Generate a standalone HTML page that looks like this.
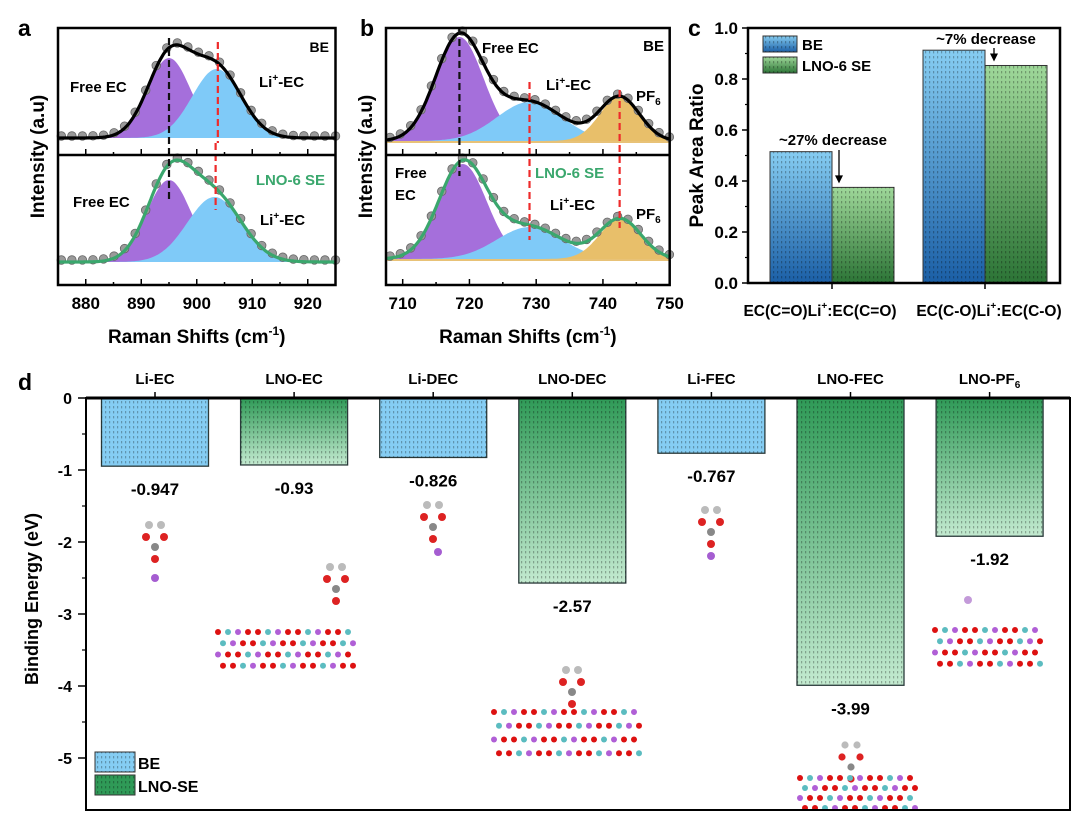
<!DOCTYPE html>
<html><head><meta charset="utf-8"><style>
html,body{margin:0;padding:0;background:#fff;}
svg{display:block;font-family:"Liberation Sans",Arial,sans-serif;}
</style></head><body>
<svg id="fig" width="1080" height="816" viewBox="0 0 1080 816" xmlns="http://www.w3.org/2000/svg">
<defs>
<pattern id="dots" width="4" height="5" patternUnits="userSpaceOnUse"><rect x="1" y="1" width="1.2" height="2.4" fill="rgba(0,0,0,0.28)"/></pattern>
<linearGradient id="gBlueC" x1="0" y1="0" x2="0" y2="1"><stop offset="0" stop-color="#86cdf2"/><stop offset="1" stop-color="#1b5fa6"/></linearGradient>
<linearGradient id="gGreenC" x1="0" y1="0" x2="0" y2="1"><stop offset="0" stop-color="#9fd89a"/><stop offset="1" stop-color="#2c7436"/></linearGradient>
<linearGradient id="gGreenD" x1="0" y1="0" x2="0" y2="1"><stop offset="0" stop-color="#2f9a57"/><stop offset="1" stop-color="#c3ead0"/></linearGradient>
</defs>
<g id="pa"></g>
<g id="pb"></g>
<g id="pc"></g>
<g id="pd"></g>
</svg>
<script>
// ---------- data ----------
// Panel a peaks: [center, height(px above baseline), sigma]
const aTopPeaks = [[895, 80, 3.9], [903.6, 69, 4.4]];
const aBotPeaks = [[895, 82, 4.0], [903.2, 65, 4.9]];
// Panel b peaks
const bTopPeaks = [[718.5, 104, 3.6], [729, 39, 4.9], [742.5, 44, 3.0]];
const bBotPeaks = [[719, 95, 3.6], [729, 32, 4.9], [742.6, 40, 3.1]];
// Panel c
const cCategories = ["EC(C=O)Li\u207a:EC(C=O)", "EC(C-O)Li\u207a:EC(C-O)"];
const cBE = [0.515, 0.913];
const cLNO = [0.375, 0.853];
const cTicks = [0, 0.2, 0.4, 0.6, 0.8, 1.0];
// Panel d
const dCategories = ["Li-EC","LNO-EC","Li-DEC","LNO-DEC","Li-FEC","LNO-FEC","LNO-PF6"];
const dValues = [-0.947,-0.93,-0.826,-2.57,-0.767,-3.99,-1.92];
const dSeries = ["BE","LNO","BE","LNO","BE","LNO","LNO"];
const dLabels = ["-0.947","-0.93","-0.826","-2.57","-0.767","-3.99","-1.92"];
const dTicks = [0,-1,-2,-3,-4,-5];

const NS="http://www.w3.org/2000/svg";
function el(parent, tag, attrs, text){
  const e=document.createElementNS(NS,tag);
  for(const k in attrs) e.setAttribute(k,attrs[k]);
  if(text!==undefined) e.textContent=text;
  parent.appendChild(e); return e;
}
function gauss(x,p){return p[1]*Math.exp(-((x-p[0])**2)/(2*p[2]*p[2]));}

function raman(g, opt){
  const sx = v => opt.x0 + (v-opt.xmin)*opt.kx;
  const L=sx(opt.xmin), R=sx(opt.xmax);
  const fills=opt.fills;
  [[opt.topPeaks,opt.topBase,"#000"],[opt.botPeaks,opt.botBase,"#3aa76d"]].forEach((cfg,pi)=>{
    const [peaks,base,lc]=cfg;
    const sub = el(g,"g",{});
    
    
    if(opt.orangeBase) el(sub,"rect",{x:L,y:base-2,width:R-L,height:4,fill:"#e8c277"});
    peaks.forEach((p,i)=>{
      let d=`M${L},${base}`;
      for(let v=opt.xmin; v<=opt.xmax+0.001; v+=0.25){
        let y=gauss(v,p);
        d+=` L${sx(v).toFixed(1)},${(base-y).toFixed(1)}`;
      }
      d+=` L${R},${base} Z`;
      const path=el(sub,"path",{d:d,fill:fills[i]});
      
      
    });
    for(let v=opt.xmin+0.6; v<opt.xmax; v+=opt.step){
      let s=0; peaks.forEach(p=>s+=gauss(v,p));
      const c=el(sub,"circle",{cx:sx(v),cy:base-s-2,r:4.3,fill:"#9a9a9a",stroke:"#666","stroke-width":0.8});
      
      
    }
    let d="";
    for(let v=opt.xmin; v<=opt.xmax+0.001; v+=0.25){
      let s=0; peaks.forEach(p=>s+=gauss(v,p));
      d+=(d?" L":"M")+sx(v).toFixed(1)+","+(base-s).toFixed(1);
    }
    const line=el(sub,"path",{d:d,fill:"none",stroke:lc,"stroke-width":3.2});
    
    
  });
  opt.dashes.forEach(dl=>{
    const ln=el(g,"line",{x1:sx(dl[0]),x2:sx(dl[0]),y1:dl[1],y2:dl[2],stroke:dl[3],"stroke-width":2.2,"stroke-dasharray":"7,4"});
    
    
  });
  el(g,"rect",{x:L,y:opt.top,width:R-L,height:opt.bottom-opt.top,fill:"none",stroke:"#000","stroke-width":2.5});
  el(g,"line",{x1:L,x2:R,y1:opt.mid,y2:opt.mid,stroke:"#000","stroke-width":2.5});
  for(let v=Math.ceil(opt.xmin/5)*5; v<=opt.xmax; v+=5){
    const major=v%10===0;
    el(g,"line",{x1:sx(v),x2:sx(v),y1:opt.bottom,y2:opt.bottom-(major?6:3),stroke:"#000","stroke-width":1.5});
    el(g,"line",{x1:sx(v),x2:sx(v),y1:opt.mid,y2:opt.mid-(major?6:3),stroke:"#000","stroke-width":1.5});
    if(major){
      const t=el(g,"text",{x:sx(v),y:opt.bottom+24,"text-anchor":"middle","font-size":17,"font-weight":"bold"},String(v));
      
      
    }
  }
  const xt=el(g,"text",{x:(L+R)/2,y:opt.bottom+58,"text-anchor":"middle","font-size":19,"font-weight":"bold"});
  
  
  xt.innerHTML='Raman Shifts (cm<tspan font-size="12" dy="-8">-1</tspan><tspan dy="8">)</tspan>';
  const yt=el(g,"text",{x:0,y:0,transform:`translate(${L-14},${(opt.top+opt.bottom)/2}) rotate(-90)`,"text-anchor":"middle","font-size":19,"font-weight":"bold"},"Intensity (a.u)");
  
  
  const pl=el(g,"text",{x:opt.labelX,y:36,"font-size":23,"font-weight":"bold"},opt.label);
  
  
  opt.texts.forEach(t=>{
    const e=el(g,"text",{x:t[0],y:t[1],"font-size":t[3]||15,"font-weight":"bold",fill:t[4]||"#000","text-anchor":t[5]||"start"});
    e.innerHTML=t[2];
    
    
  });
}

raman(document.getElementById('pa'),{
  x0:58,xmin:875,xmax:925,kx:5.55,top:28,mid:155,bottom:285,topBase:138,botBase:262,
  topPeaks:aTopPeaks,botPeaks:aBotPeaks,fills:["#a56fdb","#7fcaf8"],step:1.9,label:"a",labelX:18,
  dashes:[[895,38,200,"#111"],[903.8,42,143,"#ee2b2b"],[903.4,143,210,"#ee2b2b"]],
  texts:[[329,52,"BE",14,"#000","end"],[70,92,"Free EC",15],[259,87,'Li<tspan font-size="10" dy="-6">+</tspan><tspan dy="6">-EC</tspan>',15],
         [325,185,"LNO-6 SE",15,"#3aa76d","end"],[73,207,"Free EC",15],[260,225,'Li<tspan font-size="10" dy="-6">+</tspan><tspan dy="6">-EC</tspan>',15]]
});
raman(document.getElementById('pb'),{
  x0:386,xmin:707.5,xmax:750,kx:6.675,top:28,mid:155,bottom:285,topBase:141,botBase:259,orangeBase:true,
  topPeaks:bTopPeaks,botPeaks:bBotPeaks,fills:["#a56fdb","#7fcaf8","#e8bf6a"],step:1.55,label:"b",labelX:360,
  dashes:[[718.5,28,176,"#111"],[729,82,240,"#ee2b2b"],[742.5,90,228,"#ee2b2b"]],
  texts:[[482,53,"Free EC",15],[664,51,"BE",15,"#000","end"],[546,90,'Li<tspan font-size="10" dy="-6">+</tspan><tspan dy="6">-EC</tspan>',15],
         [636,101,'PF<tspan font-size="10" dy="4">6</tspan>',15],[395,178,"Free",15],[395,200,"EC",15],
         [535,178,"LNO-6 SE",15,"#3aa76d"],[550,210,'Li<tspan font-size="10" dy="-6">+</tspan><tspan dy="6">-EC</tspan>',15],
         [636,219,'PF<tspan font-size="10" dy="4">6</tspan>',15]]
});

// ---------- Panel c ----------
(function(){
  const g=document.getElementById('pc');
  const L=748,R=1060,T=28,B=283;
  const sy=v=>B-v*(B-T);
  const centers=[832,985], bw=62;
  const labelX=[820,989];
  cCategories.forEach((c,i)=>{
    [[cBE[i],"url(#gBlueC)",-bw,'bar-be'],[cLNO[i],"url(#gGreenC)",0,'bar-lno']].forEach(b=>{
      const x=centers[i]+b[2];
      const r=el(g,"rect",{x:x,y:sy(b[0]),width:bw,height:B-sy(b[0]),fill:b[1],stroke:"#333","stroke-width":1});
      
      
      el(g,"rect",{x:x,y:sy(b[0]),width:bw,height:B-sy(b[0]),fill:"url(#dots)"});
    });
    el(g,"line",{x1:centers[i],x2:centers[i],y1:B,y2:B+6,stroke:"#000","stroke-width":1.5});
    const t=el(g,"text",{x:labelX[i],y:316,"text-anchor":"middle","font-size":15.5,"font-weight":"bold"});
    t.innerHTML=c.replace("\u207a",'<tspan font-size="10" dy="-7">+</tspan><tspan dy="7">')+'</tspan>';
    
    
  });
  el(g,"rect",{x:L,y:T,width:R-L,height:B-T,fill:"none",stroke:"#000","stroke-width":2.5});
  cTicks.forEach(v=>{
    el(g,"line",{x1:L,x2:L-6,y1:sy(v),y2:sy(v),stroke:"#000","stroke-width":1.5});
    if(v<0.95) el(g,"line",{x1:L,x2:L-3,y1:sy(v+0.1),y2:sy(v+0.1),stroke:"#000","stroke-width":1.2});
    const t=el(g,"text",{x:L-10,y:sy(v)+6,"text-anchor":"end","font-size":17,"font-weight":"bold"},v.toFixed(1));
    
    
  });
  const yt=el(g,"text",{transform:`translate(703,${(T+B)/2}) rotate(-90)`,"text-anchor":"middle","font-size":19,"font-weight":"bold"},"Peak Area Ratio");
  
  
  const pl=el(g,"text",{x:688,y:36,"font-size":23,"font-weight":"bold"},"c");
  
  
  [["BE","url(#gBlueC)",36],["LNO-6 SE","url(#gGreenC)",57]].forEach(l=>{
    const s=el(g,"rect",{x:763,y:l[2],width:34,height:16,fill:l[1],stroke:"#333","stroke-width":1});
    
    
    el(g,"rect",{x:763,y:l[2],width:34,height:16,fill:"url(#dots)"});
    const t=el(g,"text",{x:802,y:l[2]+14,"font-size":15,"font-weight":"bold"},l[0]);
    
    
  });
  const a1=el(g,"text",{x:833,y:145,"text-anchor":"middle","font-size":15,"font-weight":"bold"},"~27% decrease");
  
  
  const a2=el(g,"text",{x:986,y:44,"text-anchor":"middle","font-size":15,"font-weight":"bold"},"~7% decrease");
  
  
  [[839,150,sy(cLNO[0])-4],[994,48,sy(cLNO[1])-4]].forEach(a=>{
    el(g,"line",{x1:a[0],x2:a[0],y1:a[1],y2:a[2]-6,stroke:"#000","stroke-width":1.3});
    el(g,"path",{d:`M${a[0]-4},${a[2]-8} L${a[0]+4},${a[2]-8} L${a[0]},${a[2]} Z`,fill:"#000"});
  });
})();

// ---------- Panel d ----------
(function(){
  const g=document.getElementById('pd');
  const L=86,R=1070,T=398,B=810;
  const Y=v=>T+(-v)*72;
  const x0=155, step=139.1, bw=107;
  dCategories.forEach((c,i)=>{
    const cx=x0+i*step, v=dValues[i];
    const fill=dSeries[i]==="BE"?"#85cdf3":"url(#gGreenD)";
    const r=el(g,"rect",{x:cx-bw/2,y:T,width:bw,height:Y(v)-T,fill:fill,stroke:"#2a3a3a","stroke-width":1.3});
    
    
    el(g,"rect",{x:cx-bw/2,y:T,width:bw,height:Y(v)-T,fill:"url(#dots)"});
    el(g,"line",{x1:cx,x2:cx,y1:T,y2:T-6,stroke:"#000","stroke-width":1.5});
    const t=el(g,"text",{x:cx,y:384,"text-anchor":"middle","font-size":15,"font-weight":"bold"});
    t.innerHTML=c.replace("PF6",'PF<tspan font-size="10" dy="4">6</tspan>');
    
    
    const vl=el(g,"text",{x:cx,y:Y(v)+29,"text-anchor":"middle","font-size":17,"font-weight":"bold"},dLabels[i]);
    
    
  });
  function mol(x,y,s){
    const m=el(g,"g",{});
    
    
    el(m,"circle",{cx:x-6,cy:y,r:4*s,fill:"#bbb"});el(m,"circle",{cx:x+6,cy:y,r:4*s,fill:"#bbb"});
    el(m,"circle",{cx:x-9,cy:y+12,r:4*s,fill:"#d22"});el(m,"circle",{cx:x+9,cy:y+12,r:4*s,fill:"#d22"});
    el(m,"circle",{cx:x,cy:y+22,r:4*s,fill:"#888"});el(m,"circle",{cx:x,cy:y+34,r:4*s,fill:"#d22"});
  }
  function slab(x,y,w,h){
    const m=el(g,"g",{});
    
    
    for(let r=0;r<4;r++)for(let c=0;c<w/10;c++){
      el(m,"circle",{cx:x+c*10+(r%2)*5,cy:y+r*h/4,r:3,fill:["#d11","#5bbcc0","#b05fd6","#d11"][(r+c)%4]});
    }
  }
  mol(155,525,1);el(g,"circle",{cx:155,cy:578,r:4,fill:"#a55dd1"});
  mol(336,567,1);slab(218,632,140,45);
  mol(433,505,1);el(g,"circle",{cx:438,cy:552,r:4,fill:"#a55dd1"});
  mol(572,670,1);slab(494,712,150,55);
  mol(711,510,1);el(g,"circle",{cx:711,cy:556,r:4,fill:"#a55dd1"});
  mol(851,745,0.9);slab(800,778,115,40);
  el(g,"circle",{cx:968,cy:600,r:4,fill:"#c39ad9"});slab(935,630,110,45);
  el(g,"rect",{x:L,y:T,width:R-L,height:B-T,fill:"none",stroke:"#000","stroke-width":2});
  el(g,"line",{x1:L,x2:R,y1:T,y2:T,stroke:"#000","stroke-width":3});
  dTicks.forEach(v=>{
    el(g,"line",{x1:L,x2:L-8,y1:Y(v),y2:Y(v),stroke:"#000","stroke-width":1.5});
    if(v>-5) el(g,"line",{x1:L,x2:L-4,y1:Y(v-0.5),y2:Y(v-0.5),stroke:"#000","stroke-width":1.2});
    const t=el(g,"text",{x:L-14,y:Y(v)+6,"text-anchor":"end","font-size":16,"font-weight":"bold"},String(v));
    
    
  });
  const yt=el(g,"text",{transform:`translate(38,${(T+B)/2-5}) rotate(-90)`,"text-anchor":"middle","font-size":18,"font-weight":"bold"},"Binding Energy (eV)");
  
  
  const pl=el(g,"text",{x:18,y:390,"font-size":23,"font-weight":"bold"},"d");
  
  
  [["BE","#85cdf3",752],["LNO-SE","#2f9a57",775]].forEach(l=>{
    const s=el(g,"rect",{x:95,y:l[2],width:40,height:20,fill:l[1],stroke:"#333","stroke-width":1});
    
    
    el(g,"rect",{x:95,y:l[2],width:40,height:20,fill:"url(#dots)"});
    const t=el(g,"text",{x:138,y:l[2]+17,"font-size":16,"font-weight":"bold"},l[0]);
    
    
  });
})();
</script>
</body></html>
